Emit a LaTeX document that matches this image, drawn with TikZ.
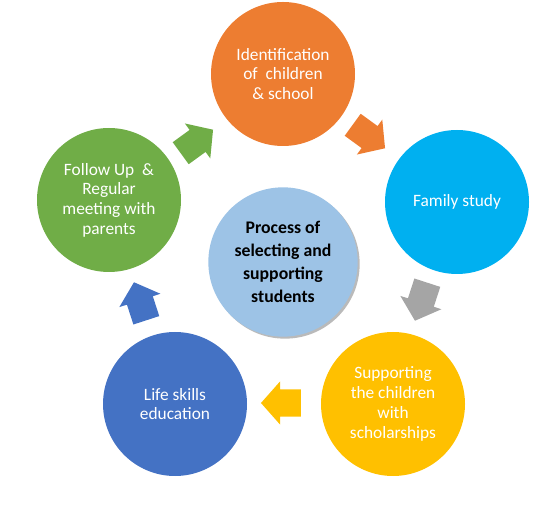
\documentclass[tikz,border=0pt]{standalone}
\usepackage{fontspec}
\setmainfont{Carlito}
\usetikzlibrary{shapes.arrows,shadows}
\definecolor{PSOrange}{HTML}{ED7D31}
\definecolor{PSCyan}{HTML}{00B0F0}
\definecolor{PSYellow}{HTML}{FFC000}
\definecolor{PSBlue}{HTML}{4472C4}
\definecolor{PSGreen}{HTML}{70AD47}
\definecolor{PSCore}{HTML}{9DC3E6}
\definecolor{PSGray}{HTML}{A5A5A5}

\begin{document}
\begin{tikzpicture}[x=0.75pt,y=-0.75pt,
  stage/.style={circle,minimum size=108pt,inner sep=0pt,align=center,text=white,font=\fontsize{13}{14.8}\selectfont},
  turn/.style={single arrow,minimum height=30pt,inner xsep=0pt,inner ysep=10pt,single arrow head extend=6pt,single arrow tip angle=97}]
\path[use as bounding box] (0,0) rectangle (553,505);
% centre
\node[circle,minimum size=112pt,inner sep=0pt,fill=PSCore,align=center,font=\fontsize{13.3}{17.3}\selectfont\bfseries,
  drop shadow={shadow xshift=1.5pt,shadow yshift=-1.5pt,fill=black!45,opacity=.6}] (core) at (283,262)
  {Process of\\selecting and\\supporting\\students};
% the five stages
\node[stage,fill=PSOrange] (ident) at (283,74) {Identification\\of\ \ children\\\& school};
\node[stage,fill=PSCyan] (family) at (457,202) {Family study};
\node[stage,fill=PSYellow] (scholar) at (393,404) {Supporting\\the children\\with\\scholarships};
\node[stage,fill=PSBlue] (life) at (175,404) {Life skills\\education};
\node[stage,fill=PSGreen] (follow) at (109,200) {Follow Up\ \ \&\\Regular\\meeting with\\parents};
% arrows between stages
\node[turn,fill=PSOrange,rotate=-36] (a1) at (364,133) {};
\node[turn,fill=PSGray,rotate=-108] (a2) at (423,296) {};
\node[turn,fill=PSYellow,rotate=180] (a3) at (287,403) {};
\node[turn,fill=PSBlue,rotate=108] (a4) at (142,307) {};
\node[turn,fill=PSGreen,rotate=36] (a5) at (192,145) {};
\end{tikzpicture}
\end{document}
